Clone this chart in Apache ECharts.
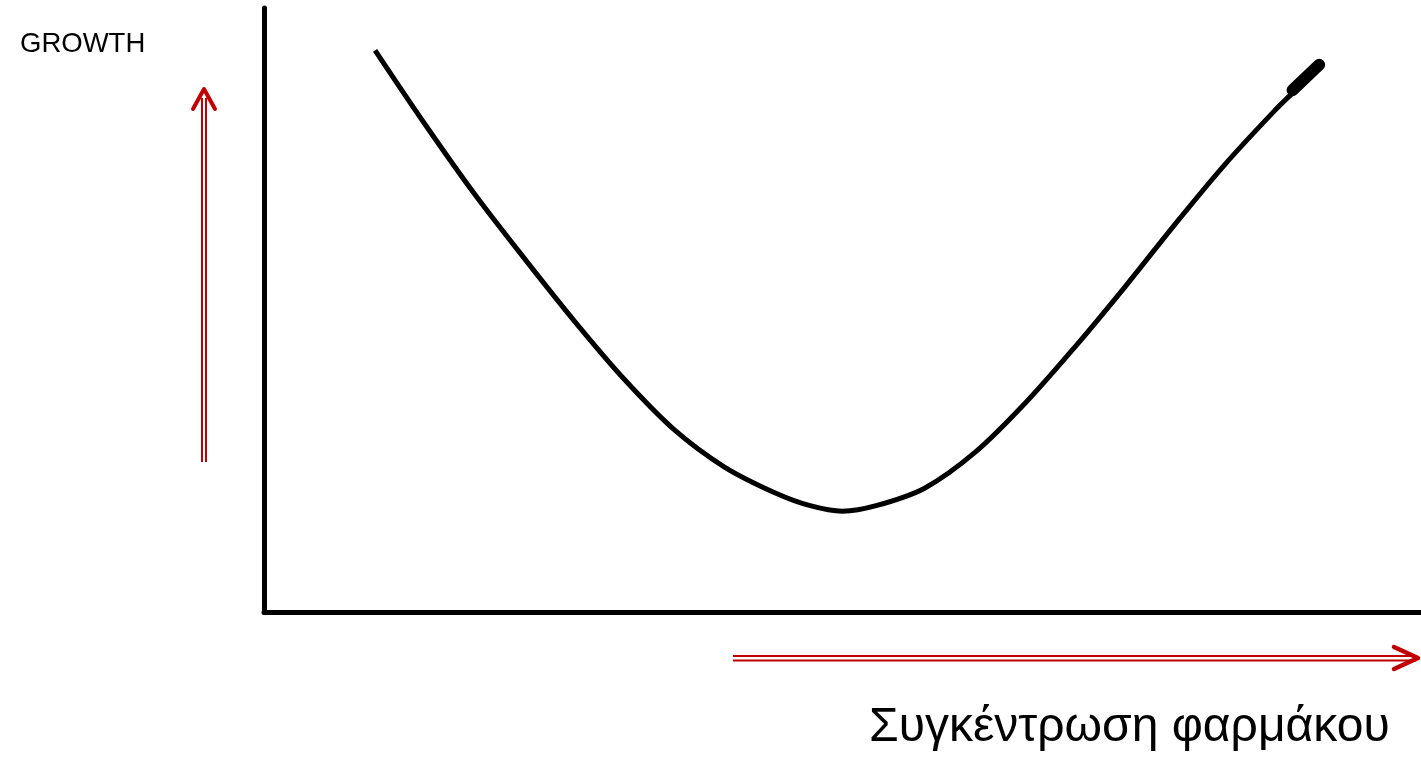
<!DOCTYPE html>
<html lang="el">
<head>
<meta charset="utf-8" />
<script src="https://cdn.jsdelivr.net/npm/echarts@6/dist/echarts.min.js"></script>
<title>Growth</title>
<style>
  html, body { margin: 0; padding: 0; background: #fff; }
  #chart { width: 1421px; height: 764px; }
</style>
</head>
<body>
<div id="chart"></div>
<script>
  // drug concentration (x) vs growth (y), 0-100 scale
  var concentration = [9.6, 13.9, 18.2, 22.6, 26.9, 31.2, 35.5, 39.8, 44.2, 47.2, 50.0, 52.9, 57.1, 61.5, 65.8, 70.1, 74.4, 78.7, 83.1, 87.4, 88.9];
  var growth        = [93.0, 80.8, 69.2, 58.3, 48.0, 38.4, 30.1, 24.0, 19.7, 17.6, 16.7, 17.6, 20.5, 26.5, 34.6, 43.9, 53.8, 64.1, 74.2, 83.1, 85.9];
  // the thick pen blob at the end of the curve
  var tipX = [88.9, 91.2];
  var tipY = [86.4, 90.6];

  var yLabel = 'GROWTH';
  var xLabel = 'Συγκέντρωση φαρμάκου';

  var red = '#c00000';

  var curve = concentration.map(function (x, i) { return [x, growth[i]]; });
  var tip = tipX.map(function (x, i) { return [x, tipY[i]]; });

  var chart = echarts.init(document.getElementById('chart'));

  var option = {
    animation: false,
    backgroundColor: '#fff',
    grid: { left: 264, right: 0, top: 8, bottom: 152 },
    xAxis: {
      type: 'value', min: 0, max: 100,
      axisLine: { show: true, lineStyle: { color: '#000', width: 5 } },
      axisTick: { show: false }, axisLabel: { show: false }, splitLine: { show: false }
    },
    yAxis: {
      type: 'value', min: 0, max: 100,
      axisLine: { show: true, lineStyle: { color: '#000', width: 5 } },
      axisTick: { show: false }, axisLabel: { show: false }, splitLine: { show: false }
    },
    series: [
      {
        type: 'line', data: curve, smooth: 0.33, showSymbol: false, clip: false,
        lineStyle: { color: '#000', width: 5, join: 'round' }
      },
      {
        type: 'line', data: tip, showSymbol: false, clip: false,
        lineStyle: { color: '#000', width: 12, cap: 'round' }
      }
    ],
    graphic: [
      { type: 'text', left: 20, top: 30, style: { text: yLabel, font: '27.5px "Liberation Sans", Arial, sans-serif', fill: '#000' } },
      { type: 'text', left: 869, top: 704, style: { text: xLabel, font: '48px "Liberation Sans", Arial, sans-serif', fill: '#000' } },
      // vertical double arrow
      { type: 'line', shape: { x1: 202, y1: 462, x2: 202, y2: 98 }, style: { stroke: red, lineWidth: 2 } },
      { type: 'line', shape: { x1: 206, y1: 462, x2: 206, y2: 98 }, style: { stroke: red, lineWidth: 2 } },
      { type: 'polyline', shape: { points: [[193, 109], [204, 89], [215, 109]] },
        style: { stroke: red, lineWidth: 4, lineCap: 'round', lineJoin: 'round', fill: null } },
      // horizontal double arrow
      { type: 'line', shape: { x1: 733, y1: 656, x2: 1416, y2: 656 }, style: { stroke: red, lineWidth: 2 } },
      { type: 'line', shape: { x1: 733, y1: 660.5, x2: 1416, y2: 660.5 }, style: { stroke: red, lineWidth: 2 } },
      { type: 'polyline', shape: { points: [[1394, 647], [1418, 658], [1394, 669]] },
        style: { stroke: red, lineWidth: 4.5, lineCap: 'round', lineJoin: 'round', fill: null } }
    ]
  };

  chart.setOption(option);
</script>
</body>
</html>
